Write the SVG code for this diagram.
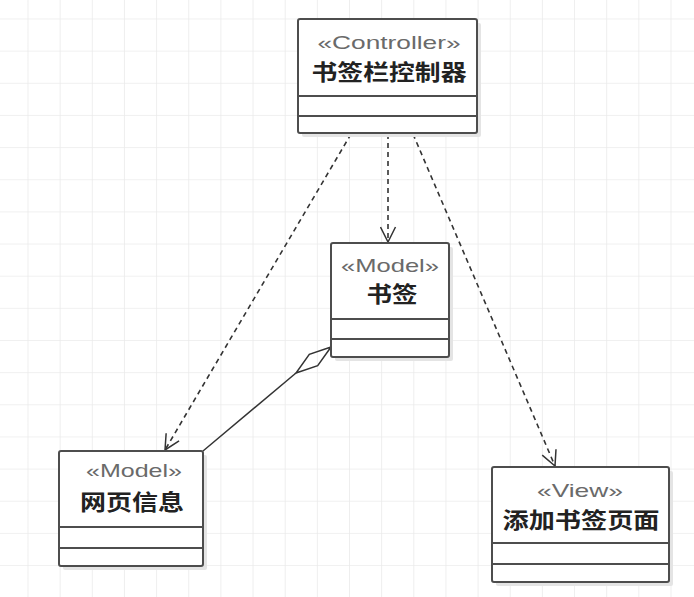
<svg xmlns="http://www.w3.org/2000/svg" width="694" height="597" viewBox="0 0 694 597">
<defs>
<pattern id="grid" x="27.5" y="18.5" width="32.15" height="32.15" patternUnits="userSpaceOnUse">
<path d="M0 0 H32.15 M0 0 V32.15" fill="none" stroke="#ebebeb" stroke-width="1.6"/>
</pattern>
<marker id="open" viewBox="0 0 17 17" refX="16" refY="8.5" markerWidth="17" markerHeight="17" markerUnits="userSpaceOnUse" orient="auto">
<path d="M1 1 L16 8.5 L1 16" fill="none" stroke="#333" stroke-width="1.5"/>
</marker>
<style>
.shadow{fill:#e4e4e4;}
.box{fill:#ffffff;stroke:#4d4d4d;stroke-width:2;}
.div{stroke:#4d4d4d;stroke-width:2;}
.st{font-family:"Liberation Sans","Noto Sans",sans-serif;font-size:19px;fill:#6a6a6a;text-anchor:middle;}
.nm{font-family:"Noto Sans CJK SC","Noto Sans CJK JP",sans-serif;font-size:22px;font-weight:bold;fill:#222222;text-anchor:middle;}
.dep{fill:none;stroke:#333;stroke-width:1.6;stroke-dasharray:5,4;marker-end:url(#open);}
.agg{fill:none;stroke:#333;stroke-width:1.5;}
</style>
</defs>
<rect width="694" height="597" fill="#ffffff"/>
<rect width="694" height="597" fill="url(#grid)"/>

<g id="connectors">
<line class="dep" x1="351" y1="134" x2="165" y2="450"/>
<line class="dep" x1="388" y1="134" x2="388" y2="242"/>
<line class="dep" x1="413" y1="134" x2="555" y2="466"/>
<line class="agg" x1="203" y1="451" x2="296" y2="373"/>
<polygon class="agg" points="331,347 317.7,365.6 296,373 309.3,354.4"/>
</g>

<g id="controller">
<rect class="shadow" x="302" y="23" width="179" height="114" rx="2"/>
<rect class="box" x="298" y="19" width="179" height="114" rx="2"/>
<line class="div" x1="298" y1="96" x2="477" y2="96"/>
<line class="div" x1="298" y1="116" x2="477" y2="116"/>
<text class="st" x="389" y="49" textLength="143" lengthAdjust="spacingAndGlyphs">«Controller»</text>
<text class="nm" x="389" y="80" textLength="155" lengthAdjust="spacingAndGlyphs">书签栏控制器</text>
</g>

<g id="bookmark">
<rect class="shadow" x="335" y="247" width="118" height="114" rx="2"/>
<rect class="box" x="331" y="243" width="118" height="114" rx="2"/>
<line class="div" x1="331" y1="319" x2="449" y2="319"/>
<line class="div" x1="331" y1="339" x2="449" y2="339"/>
<text class="st" x="390" y="272" textLength="98" lengthAdjust="spacingAndGlyphs">«Model»</text>
<text class="nm" x="392" y="302" textLength="51" lengthAdjust="spacingAndGlyphs">书签</text>
</g>

<g id="webpage">
<rect class="shadow" x="63" y="455" width="144" height="115" rx="2"/>
<rect class="box" x="59" y="451" width="144" height="115" rx="2"/>
<line class="div" x1="59" y1="527" x2="203" y2="527"/>
<line class="div" x1="59" y1="548" x2="203" y2="548"/>
<text class="st" x="134" y="477" textLength="96" lengthAdjust="spacingAndGlyphs">«Model»</text>
<text class="nm" x="132" y="510" textLength="104" lengthAdjust="spacingAndGlyphs">网页信息</text>
</g>

<g id="addpage">
<rect class="shadow" x="496" y="471" width="177" height="115" rx="2"/>
<rect class="box" x="492" y="467" width="177" height="115" rx="2"/>
<line class="div" x1="492" y1="543" x2="669" y2="543"/>
<line class="div" x1="492" y1="564" x2="669" y2="564"/>
<text class="st" x="580" y="497" textLength="86" lengthAdjust="spacingAndGlyphs">«View»</text>
<text class="nm" x="581" y="528" textLength="157" lengthAdjust="spacingAndGlyphs">添加书签页面</text>
</g>
</svg>
